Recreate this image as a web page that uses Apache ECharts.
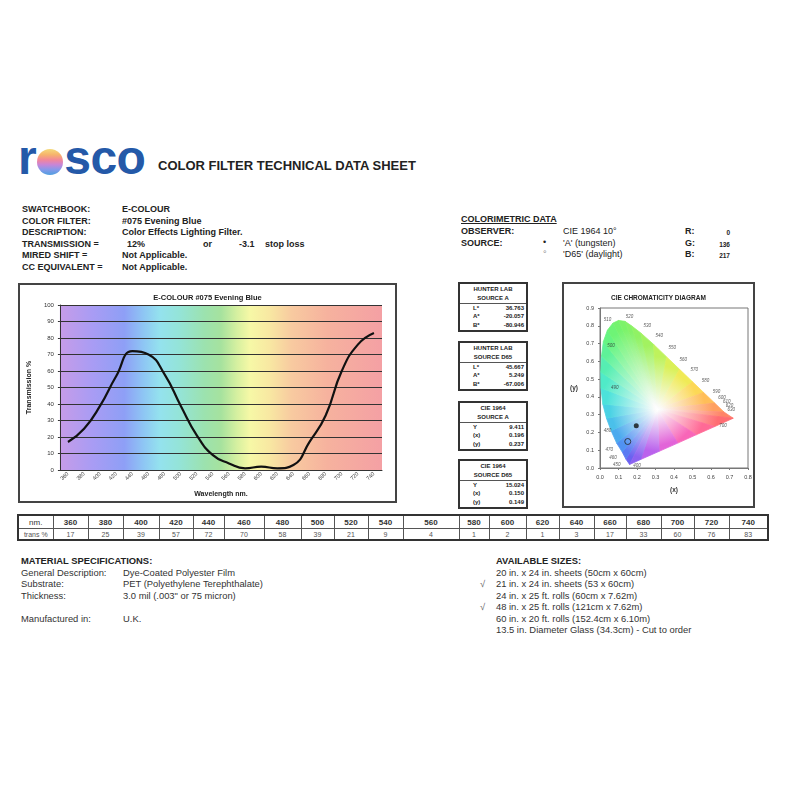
<!DOCTYPE html>
<html>
<head>
<meta charset="utf-8">
<script src="https://cdn.jsdelivr.net/npm/echarts@6/dist/echarts.min.js"></script>
<style>
body{margin:0;background:#fff;font-family:"Liberation Sans",Arial,sans-serif;color:#222;}
#page{position:relative;width:800px;height:800px;overflow:hidden;}
.abs{position:absolute;white-space:nowrap;}
.b{font-weight:bold;}
.info{font-size:9px;font-weight:bold;line-height:11.6px;}
.box{position:absolute;border:2px solid #444;box-sizing:border-box;background:#fff;}
.side{position:absolute;border:2px solid #333;box-sizing:border-box;font-size:6px;background:#fff;}
.side .hd{text-align:center;font-weight:bold;line-height:8.5px;padding-top:1px;border-bottom:1px solid #555;padding-bottom:1px;}
.side .rw{position:relative;height:8.4px;line-height:8.4px;font-weight:bold;}
.side .rw .l{position:absolute;left:13px;}
.side .rw .v{position:absolute;right:2px;}
#tbl{position:absolute;left:17px;top:514px;width:750px;table-layout:fixed;border-collapse:collapse;border:2px solid #333;font-family:"Liberation Sans",Arial,sans-serif;}
#tbl td{border:1px solid #555;text-align:center;padding:0;overflow:hidden;}
#tbl tr.h td{height:12px;font-size:8px;font-weight:bold;color:#333;}
#tbl tr.v td{height:10px;font-size:7px;color:#555;}
.spec{font-size:9.4px;line-height:11.5px;color:#333;}
#logo{position:absolute;left:18px;top:130px;font-size:48px;font-weight:bold;color:#2459a8;letter-spacing:-0.5px;}
#ball{display:inline-block;width:26px;height:26px;border-radius:50%;vertical-align:-1px;margin:0 1px;
background:linear-gradient(#f4da7a 0%,#f6b36c 22%,#f2869a 42%,#c985d6 60%,#8a98ea 78%,#4f9fe0 100%);}
</style>
</head>
<body>
<div id="page">
  <div id="logo">r<span id="ball"></span>sco</div>
  <div class="abs b" style="left:158px;top:158px;font-size:13px;color:#222;">COLOR FILTER TECHNICAL DATA SHEET</div>

  <div class="abs info" style="left:22px;top:204px;">SWATCHBOOK:<br>COLOR FILTER:<br>DESCRIPTION:<br>TRANSMISSION =<br>MIRED SHIFT =<br>CC EQUIVALENT =</div>
  <div class="abs info" style="left:122px;top:204px;">E-COLOUR<br>#075 Evening Blue<br>Color Effects Lighting Filter.<br>&nbsp;<br>Not Applicable.<br>Not Applicable.</div>
  <div class="abs info" style="left:127px;top:239px;">12%</div>
  <div class="abs info" style="left:203px;top:239px;">or</div>
  <div class="abs info" style="left:239px;top:239px;">-3.1</div>
  <div class="abs info" style="left:265px;top:239px;">stop loss</div>

  <div class="abs info" style="left:461px;top:214px;text-decoration:underline;">COLORIMETRIC DATA</div>
  <div class="abs info" style="left:461px;top:226px;">OBSERVER:<br>SOURCE:</div>
  <div class="abs" style="left:563px;top:226px;font-size:9px;line-height:11.6px;">CIE 1964 10°<br>'A' (tungsten)<br>'D65' (daylight)</div>
  <div class="abs" style="left:543px;top:237px;font-size:9px;line-height:11.6px;">•<br><span style="color:#888">°</span></div>
  <div class="abs info" style="left:685px;top:226px;">R:<br>G:<br>B:</div>
  <div class="abs" id="rgbVals" style="left:700px;top:227px;width:30px;text-align:right;font-size:6.5px;line-height:11.6px;font-weight:bold;"></div>

  <div class="box" style="left:18px;top:283px;width:379px;height:220px;"></div>
  <div id="transChart" class="abs" style="left:18px;top:283px;width:379px;height:220px;"></div>

  <div id="sideBoxes"></div>

  <div class="box" style="left:562px;top:282px;width:193px;height:226px;"></div>
  <div id="cieChart" class="abs" style="left:562px;top:282px;width:193px;height:226px;"></div>

  <table id="tbl"></table>

  <div class="abs spec" style="left:21px;top:555px;"><b style="color:#222">MATERIAL SPECIFICATIONS:</b><br>General Description:<br>Substrate:<br>Thickness:<br><br>Manufactured in:</div>
  <div class="abs spec" style="left:123px;top:555px;">&nbsp;<br>Dye-Coated Polyester Film<br>PET (Polyethylene Terephthalate)<br>3.0 mil (.003" or 75 micron)<br><br>U.K.</div>

  <div class="abs spec" id="sizes" style="left:496px;top:555px;"></div>
  <div class="abs spec" style="left:480px;top:566px;color:#666;">&nbsp;<br>√<br>&nbsp;<br>√</div>
</div>

<script>
// ---- data ----
const wavelengths = [360,380,400,420,440,460,480,500,520,540,560,580,600,620,640,660,680,700,720,740];
const transmission = [17,25,39,57,72,70,58,39,21,9,4,1,2,1,3,17,33,60,76,83];

const rgbValues = [0,136,217];

const sideTitles = [['HUNTER LAB','SOURCE A'],['HUNTER LAB','SOURCE D65'],['CIE 1964','SOURCE A'],['CIE 1964','SOURCE D65']];
const sideLabels = [['L*','A*','B*'],['L*','A*','B*'],['Y','(x)','(y)'],['Y','(x)','(y)']];
const sideValues = [['36.763','-20.057','-80.946'],['45.667','5.249','-67.006'],['9.411','0.196','0.237'],['15.024','0.150','0.149']];

const sourceA = [0.196,0.237];
const sourceD65 = [0.150,0.149];

// spectral locus + line of purples
const locus = [
  [0.16,0.02],[0.14,0.05],[0.12,0.09],[0.09,0.14],[0.06,0.21],[0.035,0.28],[0.015,0.36],
  [0.005,0.45],[0.004,0.54],[0.008,0.63],[0.018,0.71],[0.04,0.775],[0.07,0.815],[0.10,0.83],
  [0.135,0.825],[0.17,0.80],[0.22,0.76],[0.29,0.695],[0.36,0.625],[0.43,0.555],[0.50,0.485],
  [0.56,0.425],[0.62,0.365],[0.67,0.315],[0.72,0.28],[0.62,0.233],[0.52,0.187],[0.42,0.14],
  [0.32,0.094],[0.22,0.048]
];
const whitePoint = [0.31,0.33];
const waveMarks = [
  [0.04,0.835,'510'],[0.16,0.85,'520'],[0.255,0.80,'530'],[0.32,0.745,'540'],[0.39,0.675,'550'],
  [0.45,0.61,'560'],[0.51,0.55,'570'],[0.57,0.49,'580'],[0.63,0.43,'590'],[0.66,0.395,'600'],
  [0.685,0.37,'610'],[0.70,0.35,'620'],[0.71,0.33,'630'],[0.665,0.235,'700'],
  [0.06,0.685,'500'],[0.08,0.45,'490'],[0.04,0.21,'480'],[0.05,0.10,'470'],[0.07,0.055,'460'],
  [0.09,0.02,'450'],[0.2,0.015,'400']
];

const availableSizes = [
  '20 in. x 24 in. sheets (50cm x 60cm)',
  '21 in. x 24 in. sheets (53 x 60cm)',
  '24 in. x 25 ft. rolls (60cm x 7.62m)',
  '48 in. x 25 ft. rolls (121cm x 7.62m)',
  '60 in. x 20 ft. rolls (152.4cm x 6.10m)',
  '13.5 in. Diameter Glass (34.3cm) - Cut to order'
];

// ---- styles ----
const locusColors = ['#6a62f0','#5a7af2','#5092f2','#4caaee','#4ac0ea','#4ad2e4','#4ce2da','#50eac8',
  '#56eeb2','#5ef298','#66f482','#6ef476','#74f36e','#7cf36a','#84f268','#90f264','#a2f260','#bef25c',
  '#daf058','#f0ea56','#fcd856','#ffbe58','#ffa060','#ff8468','#ff6c72','#ff6a96','#f866b8','#e264d8',
  '#ba62ec','#8c62f0'];
const colWidths = [35,35,35,36,34,31,40,37,33,34,35,56,30,37,33,35,32,35,33,35,39];

// ---- text parts ----
document.getElementById('rgbVals').innerHTML = rgbValues.join('<br>');
document.getElementById('sizes').innerHTML = '<b style="color:#222">AVAILABLE SIZES:</b><br>' + availableSizes.join('<br>');

const sideTops = [282,341,401,459];
let sideHtml = '';
for (let i = 0; i < sideTitles.length; i++) {
  sideHtml += '<div class="side" style="left:458px;top:' + sideTops[i] + 'px;width:70px;height:50px;">' +
    '<div class="hd">' + sideTitles[i][0] + '<br>' + sideTitles[i][1] + '</div>';
  for (let k = 0; k < 3; k++) {
    sideHtml += '<div class="rw"><span class="l">' + sideLabels[i][k] + '</span><span class="v">' + sideValues[i][k] + '</span></div>';
  }
  sideHtml += '</div>';
}
document.getElementById('sideBoxes').innerHTML = sideHtml;

let cols = '<colgroup>' + colWidths.map(w => '<col style="width:' + w + 'px">').join('') + '</colgroup>';
let rowH = '<tr class="h"><td style="font-weight:normal">nm.</td>';
let rowV = '<tr class="v"><td>trans %</td>';
wavelengths.forEach((w, i) => {
  rowH += '<td>' + w + '</td>';
  rowV += '<td>' + transmission[i] + '</td>';
});
document.getElementById('tbl').innerHTML = cols + rowH + '</tr>' + rowV + '</tr>';

// ---- transmission chart ----
const rainbow = new echarts.graphic.LinearGradient(0, 0, 1, 0, [
  {offset:0, color:'#c69ce8'}, {offset:0.1, color:'#a99cf4'}, {offset:0.2, color:'#8e9ff6'},
  {offset:0.26, color:'#8ec6f4'}, {offset:0.31, color:'#94e2ee'}, {offset:0.37, color:'#94e4d8'},
  {offset:0.45, color:'#9ce2ae'}, {offset:0.5, color:'#a6e29e'}, {offset:0.55, color:'#d6f0a0'},
  {offset:0.59, color:'#f6f8a6'}, {offset:0.65, color:'#f8e8a2'}, {offset:0.72, color:'#f8caa0'},
  {offset:0.83, color:'#f6b29e'}, {offset:1, color:'#f4a0a4'}
]);
const trans = echarts.init(document.getElementById('transChart'));
trans.setOption({
  animation: false,
  title: {text:'E-COLOUR #075 Evening Blue', left:'center', top:6,
    textStyle:{fontSize:7.5, fontWeight:'bold', color:'#222', fontFamily:'Liberation Sans'}},
  grid: {left:37, right:15, top:22, bottom:32, show:true, borderWidth:0, backgroundColor:rainbow},
  xAxis: {
    type:'category', data:wavelengths, boundaryGap:true,
    name:'Wavelength nm.', nameLocation:'middle', nameGap:21,
    nameTextStyle:{fontSize:7, fontWeight:'bold', color:'#222'},
    axisLine:{lineStyle:{color:'#333'}}, axisTick:{length:2, lineStyle:{color:'#333'}},
    axisLabel:{rotate:45, fontSize:5.5, margin:3, color:'#333', interval:0}
  },
  yAxis: {
    type:'value', min:0, max:100, interval:10,
    name:'Transmission %', nameLocation:'middle', nameGap:21, nameRotate:90,
    nameTextStyle:{fontSize:7, fontWeight:'bold', color:'#222'},
    axisLine:{show:true, lineStyle:{color:'#333'}}, axisTick:{show:true, length:2},
    axisLabel:{fontSize:6, margin:6, color:'#333'},
    splitLine:{lineStyle:{color:'#333', width:1}}
  },
  series: [{type:'line', data:transmission, smooth:0.5, symbol:'none',
    lineStyle:{color:'#111', width:2.2}}]
});

// ---- CIE chromaticity diagram ----
function renderGamut(params, api) {
  const pts = locus.map(p => api.coord(p));
  const w = api.coord(whitePoint);
  const children = [];
  for (let i = 0; i < pts.length; i++) {
    const a = pts[i], b = pts[(i + 1) % pts.length];
    const mx = (a[0] + b[0]) / 2, my = (a[1] + b[1]) / 2;
    const fill = new echarts.graphic.LinearGradient(mx, my, w[0], w[1],
      [{offset:0, color:locusColors[i]}, {offset:0.1, color:locusColors[i]}, {offset:0.95, color:'#fbfbfb'}, {offset:1, color:'#ffffff'}], true);
    children.push({type:'polygon', shape:{points:[w, a, b]}, style:{fill:fill, stroke:fill, lineWidth:0.8}});
  }
  return {type:'group', children:children};
}
const axisText = {fontSize:5.5, color:'#444'};
const cie = echarts.init(document.getElementById('cieChart'));
cie.setOption({
  animation: false,
  title: {text:'CIE CHROMATICITY DIAGRAM', left:'center', top:8,
    textStyle:{fontSize:6.5, fontWeight:'bold', color:'#222', fontFamily:'Liberation Sans'}},
  grid: {left:38, right:7, top:26, bottom:40, show:true, borderColor:'#777', borderWidth:1},
  xAxis: {type:'value', min:0, max:0.8, interval:0.1, name:'(x)', nameLocation:'middle', nameGap:19,
    nameTextStyle:{fontSize:6.5, fontWeight:'bold', color:'#333'},
    axisLine:{lineStyle:{color:'#777'}}, axisTick:{show:true, length:2},
    axisLabel:Object.assign({formatter:v => v.toFixed(1), margin:6}, axisText), splitLine:{show:false}},
  yAxis: {type:'value', min:0, max:0.9, interval:0.1, name:'(y)', nameLocation:'middle', nameGap:22, nameRotate:0,
    nameTextStyle:{fontSize:6.5, fontWeight:'bold', color:'#333'},
    axisLine:{show:true, lineStyle:{color:'#777'}}, axisTick:{show:true, length:2},
    axisLabel:Object.assign({formatter:v => v.toFixed(1), margin:6}, axisText), splitLine:{show:false}},
  series: [
    {type:'custom', renderItem:renderGamut, data:[[0,0]], silent:true, z:1},
    {type:'scatter', data:waveMarks.map(m => [m[0], m[1], m[2]]), symbolSize:0, z:3,
      label:{show:true, position:'inside', formatter:p => p.data[2], fontSize:4.5, fontStyle:'italic', color:'#333'}},
    {type:'scatter', data:[sourceA], symbol:'circle', symbolSize:5, itemStyle:{color:'#111'}, z:4},
    {type:'scatter', data:[sourceD65], symbol:'circle', symbolSize:6,
      itemStyle:{color:'rgba(0,0,0,0)', borderColor:'#222', borderWidth:1}, z:4}
  ]
});
</script>
</body>
</html>
